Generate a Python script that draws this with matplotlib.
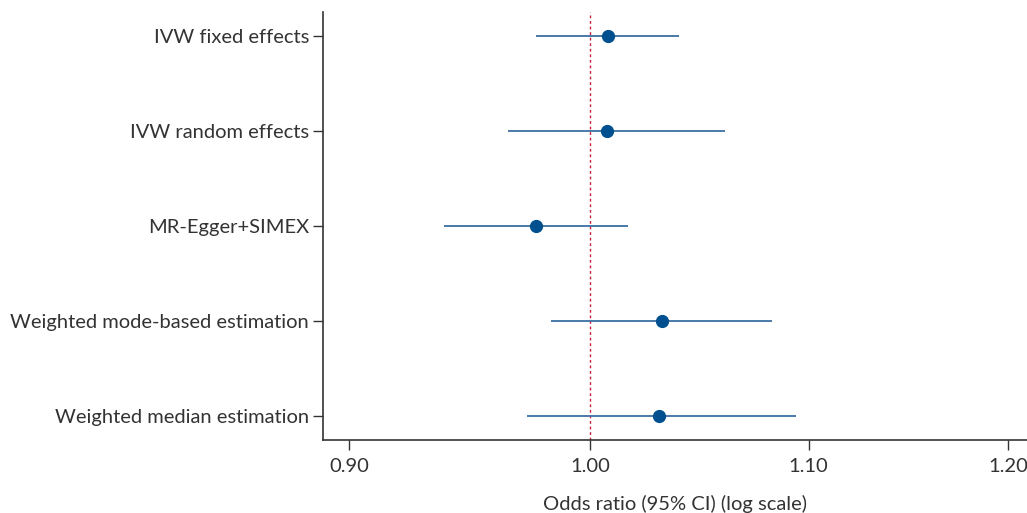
import matplotlib
matplotlib.use("Agg")
import matplotlib.pyplot as plt
from matplotlib.ticker import FixedLocator, NullLocator

methods = ["IVW fixed effects", "IVW random effects", "MR-Egger+SIMEX",
           "Weighted mode-based estimation", "Weighted median estimation"]
or_est = [1.0079, 1.0074, 0.9767, 1.0319, 1.0306]
ci_low = [0.9767, 0.9648, 0.9382, 0.9831, 0.9729]
ci_high = [1.0396, 1.0603, 1.0167, 1.0827, 1.0937]
xticks = [0.90, 1.00, 1.10, 1.20]
xtick_labels = ["0.90", "1.00", "1.10", "1.20"]

plt.rcParams['font.family'] = ['Lato', 'DejaVu Sans']
fig = plt.figure(figsize=(10.27, 5.13), dpi=100)
ax = fig.add_axes([0.3145, 0.1423, 0.6855, 0.8343])

ypos = list(range(len(methods)))
ax.hlines(ypos, ci_low, ci_high, color="#3b6fa3", lw=1.3, zorder=2)
ax.plot(or_est, ypos, 'o', color="#00508f", ms=8.5, zorder=3)
ax.axvline(1.0, color="#c8203c", lw=1.0, ls=(0, (2, 2)), zorder=1)

ax.set_xscale('log')
ax.set_xlim(0.8898, 1.210)
ax.xaxis.set_major_locator(FixedLocator(xticks))
ax.xaxis.set_minor_locator(NullLocator())
ax.set_xticklabels(xtick_labels)
ax.set_ylim(len(methods) - 0.75, -0.25)
ax.set_yticks(ypos)
ax.set_yticklabels(methods)

for s in ['top', 'right']:
    ax.spines[s].set_visible(False)
for s in ['left', 'bottom']:
    ax.spines[s].set_color("#333333")
    ax.spines[s].set_linewidth(1.2)
ax.tick_params(axis='both', length=7, width=1.0, color="#333333",
               labelsize=14.5, labelcolor="#333333")
ax.tick_params(axis='y', pad=3)
ax.tick_params(axis='x', pad=6)
ax.set_xlabel("Odds ratio (95% CI) (log scale)", fontsize=14.5, color="#333333", labelpad=14)

fig.savefig("out.png", dpi=100)
